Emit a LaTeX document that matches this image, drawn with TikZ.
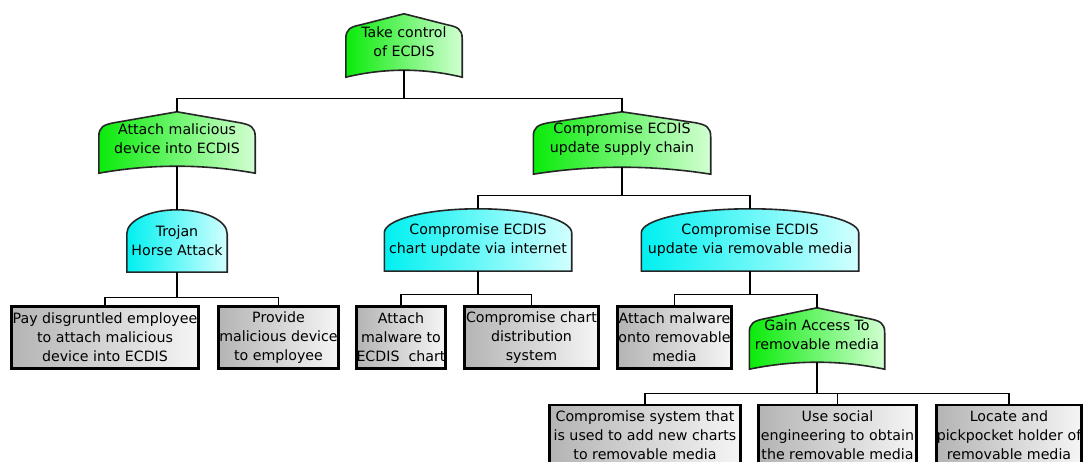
\documentclass[tikz,border=0pt]{standalone}
\usepackage{fontspec}
\setmainfont{DejaVu Sans}
\usepackage{tikz}
\usetikzlibrary{calc, backgrounds}
\usepackage{xcolor}
\definecolor{orgreen}{RGB}{10,235,10}
\definecolor{ormid}{RGB}{70,245,70}
\definecolor{orpale}{RGB}{210,255,210}
\definecolor{andcyan}{RGB}{0,240,240}
\definecolor{andmid}{RGB}{70,250,250}
\definecolor{andpale}{RGB}{210,255,255}
\definecolor{leafgray}{RGB}{180,180,180}
\definecolor{leafpale}{RGB}{245,245,245}

\tikzset{
  gatetext/.style={align=center, inner sep=0pt, font=\fontsize{14.2}{19}\selectfont},
  orpath/.style={draw=black!85, line width=1.6pt, left color=orgreen, middle color=ormid, right color=orpale},
  andpath/.style={draw=black!85, line width=1.6pt, left color=andcyan, middle color=andmid, right color=andpale},
  leaf/.style={draw, line width=2.8pt, left color=leafgray, right color=leafpale, align=center, inner sep=0pt, minimum height=62pt, font=\fontsize{14.2}{19}\selectfont},
  link/.style={line width=1.1pt},
}

% OR outline round a node: peak at north, bottom curve through south
\newcommand\orgate[1]{%
  \path[orpath] ([yshift=-7pt]#1.south west)
    -- ([yshift=-25pt]#1.north west)
    .. controls ([yshift=-15pt]#1.north west) and ([xshift=5pt,yshift=-13pt]#1.north west) .. ([xshift=15pt,yshift=-11pt]#1.north west)
    -- (#1.north)
    -- ([xshift=-15pt,yshift=-11pt]#1.north east)
    .. controls ([xshift=-5pt,yshift=-13pt]#1.north east) and ([yshift=-15pt]#1.north east) .. ([yshift=-25pt]#1.north east)
    -- ([yshift=-7pt]#1.south east)
    .. controls ($(#1.south east)!.333!(#1.south west)+(0,-2.3)$) and ($(#1.south east)!.667!(#1.south west)+(0,-2.3)$) .. ([yshift=-7pt]#1.south west)
    -- cycle;}

% AND outline round a node: flat bottom, half ellipse on top (#2 = half width)
\newcommand\andgate[2]{%
  \path[andpath] (#1.south west) -- ([yshift=-24pt]#1.north west)
    .. controls ([yshift=-10.75pt]#1.north west) and ([xshift={-0.552*#2pt}]#1.north) .. (#1.north)
    .. controls ([xshift={0.552*#2pt}]#1.north) and ([yshift=-10.75pt]#1.north east) .. ([yshift=-24pt]#1.north east)
    -- (#1.south east) -- cycle;}

\begin{document}
\begin{tikzpicture}[x=1pt, y=-1pt]
\useasboundingbox (0,0) rectangle (1085,462);

% gates
\node[gatetext, minimum width=116pt, minimum height=56pt] (top) at (404,42) {Take control\\of ECDIS};
\node[gatetext, minimum width=156pt, minimum height=54pt] (attach) at (177,139) {Attach malicious\\device into ECDIS};
\node[gatetext, minimum width=177pt, minimum height=55pt] (supply) at (622,139.5) {Compromise ECDIS\\update supply chain};
\node[gatetext, minimum width=100pt, minimum height=62pt] (trojan) at (177,241) {Trojan\\Horse Attack};
\node[gatetext, minimum width=187pt, minimum height=62pt] (internet) at (478,240) {Compromise ECDIS\\chart update via internet};
\node[gatetext, minimum width=217pt, minimum height=62pt] (media) at (750,240) {Compromise ECDIS\\update via removable media};
\node[gatetext, minimum width=135pt, minimum height=54pt] (access) at (817,335) {Gain Access To\\removable media};

% leaves
\node[leaf, minimum width=187pt] (pay) at (105,337.5) {Pay disgruntled employee\\to attach malicious\\device into ECDIS};
\node[leaf, minimum width=120pt] (provide) at (278.5,337.5) {Provide\\malicious device\\to employee};
\node[leaf, minimum width=89pt] (chart) at (401,337.5) {Attach\\malware to\\ECDIS~ chart};
\node[leaf, minimum width=134pt] (distrib) at (531.5,337.5) {Compromise chart\\distribution\\system};
\node[leaf, minimum width=114pt] (onto) at (674.5,337.5) {Attach malware\\onto removable\\media};
\node[leaf, minimum width=191pt, minimum height=60pt] (compsys) at (645,435) {Compromise system that\\is used to add new charts\\to removable media};
\node[leaf, minimum width=158pt, minimum height=60pt] (social) at (837.5,435) {Use social\\engineering to obtain\\the removable media};
\node[leaf, minimum width=145pt, minimum height=60pt] (locate) at (1009,435) {Locate and\\pickpocket holder of\\removable media};

\begin{scope}[on background layer]
\orgate{top}
\orgate{attach}
\orgate{supply}
\orgate{access}
\andgate{trojan}{50}
\andgate{internet}{93.5}
\andgate{media}{108.5}
\end{scope}

% connectors
\draw[link] (top.south) -- ++(0,28) -| (attach.north);
\draw[link] (top.south) -- ++(0,28) -| (supply.north);
\draw[link] (attach.south) -- (trojan.north);
\draw[link] (trojan.south) -- ++(0,25) -| (pay.north);
\draw[link] (trojan.south) -- ++(0,25) -| (provide.north);
\draw[link] (supply.south) -- ++(0,28) -| (internet.north);
\draw[link] (supply.south) -- ++(0,28) -| (media.north);
\draw[link] (internet.south) -- ++(0,23) -| (chart.north);
\draw[link] (internet.south) -- ++(0,23) -| (distrib.north);
\draw[link] (media.south) -- ++(0,23) -| (onto.north);
\draw[link] (media.south) -- ++(0,23) -| (access.north);
\draw[link] (access.south) -- ++(0,31) -| (compsys.north);
\draw[link] (access.south) -- ++(0,31) -| (social.north);
\draw[link] (access.south) -- ++(0,31) -| (locate.north);
\end{tikzpicture}
\end{document}
